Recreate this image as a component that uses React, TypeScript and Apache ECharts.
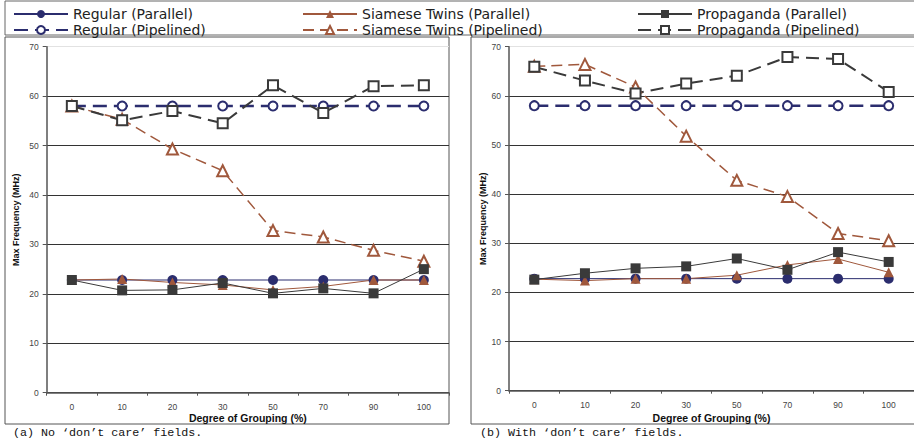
import React, { useEffect, useRef } from "react";
import * as echarts from "echarts";

const categories = ["0", "10", "20", "30", "50", "70", "90", "100"];

// (a) No 'don't care' fields
const regParA = [22.8, 22.8, 22.8, 22.8, 22.8, 22.8, 22.8, 22.8];
const regPipA = [58, 58, 58, 58, 58, 58, 58, 58];
const siaParA = [22.8, 23.0, 22.3, 21.8, 20.8, 21.5, 22.8, 22.8];
const siaPipA = [58, 55.3, 49.3, 44.9, 32.8, 31.5, 28.8, 26.6];
const proParA = [22.8, 20.7, 20.8, 22.2, 20.1, 21.1, 20.1, 25.0];
const proPipA = [58, 55.1, 57.0, 54.5, 62.2, 56.6, 62.0, 62.2];

// (b) With 'don't care' fields
const regParB = [22.8, 22.8, 22.8, 22.8, 22.8, 22.8, 22.8, 22.8];
const regPipB = [58, 58, 58, 58, 58, 58, 58, 58];
const siaParB = [22.7, 22.4, 22.8, 22.8, 23.5, 25.6, 26.8, 24.1];
const siaPipB = [66.0, 66.4, 61.8, 51.8, 42.8, 39.5, 32.0, 30.5];
const proParB = [22.6, 23.9, 24.9, 25.3, 26.9, 24.6, 28.2, 26.2];
const proPipB = [65.9, 63.1, 60.5, 62.5, 64.1, 67.9, 67.5, 60.8];

const NAVY = "#2b2d6e";
const BROWN = "#a0583c";
const GRAY = "#3a3a3a";

const FONT = "Liberation Sans";

function makeSeries(idx: number, d: number[][]) {
  const [rp, rq, sp, sq, pp, pq] = d;
  const base = { type: "line", xAxisIndex: idx, yAxisIndex: idx, showSymbol: true };
  return [
    { ...base, name: "Regular (Parallel)", data: rp, symbol: "circle", symbolSize: 10,
      itemStyle: { color: NAVY }, lineStyle: { color: NAVY, width: 1 } },
    { ...base, name: "Regular (Pipelined)", data: rq, symbol: "emptyCircle", symbolSize: 9,
      itemStyle: { color: NAVY, borderWidth: 1 }, lineStyle: { color: NAVY, width: 2.5, type: [14, 7] } },
    { ...base, name: "Siamese Twins (Parallel)", data: sp, symbol: "triangle", symbolSize: 10,
      itemStyle: { color: BROWN }, lineStyle: { color: BROWN, width: 1 } },
    { ...base, name: "Siamese Twins (Pipelined)", data: sq, symbol: "emptyTriangle", symbolSize: 11,
      itemStyle: { color: BROWN, borderWidth: 1 }, lineStyle: { color: BROWN, width: 1.5, type: [11, 6] } },
    { ...base, name: "Propaganda (Parallel)", data: pp, symbol: "rect", symbolSize: 10,
      itemStyle: { color: GRAY }, lineStyle: { color: GRAY, width: 1 } },
    { ...base, name: "Propaganda (Pipelined)", data: pq, symbol: "emptyRect", symbolSize: 10,
      itemStyle: { color: GRAY, borderWidth: 1 }, lineStyle: { color: GRAY, width: 2, type: [13, 7] } },
  ];
}

function xAxisCfg(idx: number, gap: number) {
  return {
    type: "category",
    gridIndex: idx,
    data: categories,
    boundaryGap: true,
    axisLine: { lineStyle: { color: "#555", width: 1.5 } },
    axisTick: { show: true, length: 3, lineStyle: { color: "#555" } },
    axisLabel: { color: "#444", fontSize: 8.5, fontFamily: FONT, margin: 10 },
    name: "Degree of Grouping (%)",
    nameLocation: "middle",
    nameGap: gap,
    nameMoveOverlap: false,
    nameTextStyle: { color: "#111", fontSize: 10.5, fontWeight: "bold", fontFamily: FONT },
  };
}

function yAxisCfg(idx: number, gap: number) {
  return {
    type: "value",
    gridIndex: idx,
    min: 0,
    max: 70,
    interval: 10,
    axisLine: { show: true, lineStyle: { color: "#555", width: 1.5 } },
    axisTick: { show: true, length: 4, lineStyle: { color: "#555" } },
    axisLabel: { color: "#444", fontSize: 8.5, fontFamily: FONT, margin: 8 },
    splitLine: {
      show: true,
      lineStyle: { color: ["#333", "#333", "#333", "#333", "#333", "#333", "#333", "#e2e2e2"], width: 1.2 },
    },
    name: "Max Frequency (MHz)",
    nameLocation: "middle",
    nameRotate: 90,
    nameGap: gap,
    nameMoveOverlap: false,
    nameTextStyle: { color: "#111", fontSize: 9, fontWeight: "bold", fontFamily: FONT },
  };
}

function legendCfg(left: number, names: string[]) {
  return {
    orient: "vertical",
    left,
    top: 7,
    padding: 0,
    itemWidth: 54,
    itemHeight: 10,
    itemGap: 2,
    selectedMode: false,
    data: names,
    textStyle: { color: "#222", fontSize: 14, lineHeight: 14, fontFamily: "DejaVu Sans" },
  };
}

export default function App() {
  const ref = useRef<HTMLDivElement>(null);
  useEffect(() => {
    document.body.style.margin = "0";
    const chart = echarts.init(ref.current!, undefined, { renderer: "svg" });
    chart.setOption({
      animation: false,
      backgroundColor: "#fff",
      legend: [
        legendCfg(13, ["Regular (Parallel)", "Regular (Pipelined)"]),
        legendCfg(302, ["Siamese Twins (Parallel)", "Siamese Twins (Pipelined)"]),
        legendCfg(637, ["Propaganda (Parallel)", "Propaganda (Pipelined)"]),
      ],
      grid: [
        { left: 46.7, top: 46.7, width: 402.3, height: 346, containLabel: false },
        { left: 509, top: 46.7, width: 406, height: 344, containLabel: false },
      ],
      xAxis: [xAxisCfg(0, 19.5), xAxisCfg(1, 21.5)],
      yAxis: [yAxisCfg(0, 26.5), yAxisCfg(1, 22)],
      series: [
        ...makeSeries(0, [regParA, regPipA, siaParA, siaPipA, proParA, proPipA]),
        ...makeSeries(1, [regParB, regPipB, siaParB, siaPipB, proParB, proPipB]),
      ],
      graphic: [
        { type: "rect", z: -1, silent: true, shape: { x: 5, y: 1, width: 910, height: 34 },
          style: { fill: "none", stroke: "#666", lineWidth: 1 } },
        { type: "rect", z: -1, silent: true, shape: { x: 5, y: 37, width: 444, height: 387 },
          style: { fill: "none", stroke: "#555", lineWidth: 1 } },
        { type: "rect", z: -1, silent: true, shape: { x: 471, y: 37, width: 450, height: 387 },
          style: { fill: "none", stroke: "#555", lineWidth: 1 } },
        { type: "text", x: 13, y: 433, silent: true,
          style: { text: "(a) No \u2018don\u2019t care\u2019 fields.", fill: "#111", fontSize: 11.7,
            fontFamily: "Liberation Mono", verticalAlign: "middle" } },
        { type: "text", x: 480, y: 433, silent: true,
          style: { text: "(b) With \u2018don\u2019t care\u2019 fields.", fill: "#111", fontSize: 11.7,
            fontFamily: "Liberation Mono", verticalAlign: "middle" } },
      ],
    });
    return () => chart.dispose();
  }, []);
  return <div ref={ref} style={{ width: 914, height: 445 }} />;
}
